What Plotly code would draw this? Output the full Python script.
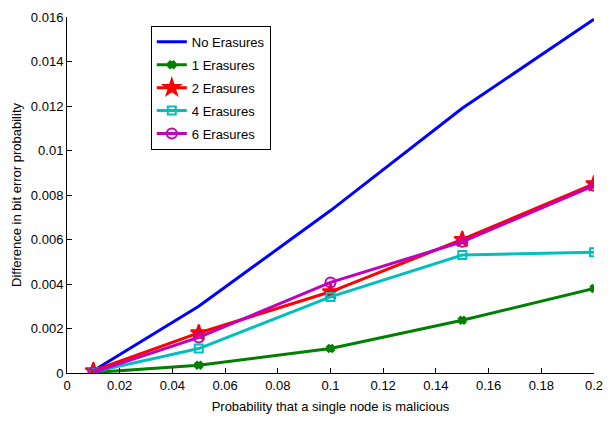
import plotly.graph_objects as go

x_vals = [0.01, 0.05, 0.1, 0.15, 0.2]
no_erasures = [0.0001, 0.0030, 0.0073, 0.0119, 0.0159]
erasures_1 = [0.00002, 0.00035, 0.0011, 0.00237, 0.0038]
erasures_2 = [0.0001, 0.0018, 0.00365, 0.0060, 0.0085]
erasures_4 = [0.00005, 0.0011, 0.00342, 0.00530, 0.00543]
erasures_6 = [0.00003, 0.0016, 0.00407, 0.0059, 0.00842]

series = [
    ("No Erasures", no_erasures, "#0000FF", None, 0),
    ("1 Erasures", erasures_1, "#008000", "x", 6),
    ("2 Erasures", erasures_2, "#FF0000", "star", 12),
    ("4 Erasures", erasures_4, "#00BFBF", "square-open", 8),
    ("6 Erasures", erasures_6, "#BF00BF", "circle-open", 10),
]

fig = go.Figure()
for i, (name, ys, color, sym, size) in enumerate(series):
    mode = "lines" if sym is None else "lines+markers"
    marker = dict(color=color)
    if sym is not None:
        marker.update(symbol=sym, size=size, line=dict(color=color, width=2))
    fig.add_trace(go.Scatter(
        x=x_vals, y=ys, name=name, mode=mode,
        line=dict(color=color, width=3),
        marker=marker, legendgroup=f"g{i}",
    ))

base_font = dict(family="Arial, Liberation Sans, sans-serif", size=13, color="black")

fig.update_layout(
    width=613, height=422,
    margin=dict(l=67, r=10, t=15, b=49),
    plot_bgcolor="white", paper_bgcolor="white",
    font=base_font,
    showlegend=True,
    legend=dict(
        x=0.159, y=0.975, xanchor="left", yanchor="top",
        bordercolor="black", borderwidth=1, bgcolor="white",
        font=dict(family="Arial, Liberation Sans, sans-serif", size=13, color="black"),
        traceorder="grouped", tracegroupgap=3,
    ),
)
fig.update_xaxes(
    range=[0, 0.2], dtick=0.02, tick0=0,
    ticks="inside", ticklen=5, tickcolor="black",
    showline=True, linecolor="black", linewidth=1,
    showgrid=False, zeroline=False,
    tickfont=dict(size=13),
    title=dict(text="Probability that a single node is malicious", standoff=10,
               font=dict(size=13)),
)
fig.update_yaxes(
    range=[0, 0.016], dtick=0.002, tick0=0,
    ticks="inside", ticklen=5, tickcolor="black",
    showline=True, linecolor="black", linewidth=1,
    showgrid=False, zeroline=False,
    tickfont=dict(size=13),
    title=dict(text="Difference in bit error probability", standoff=6,
               font=dict(size=13)),
)

fig.write_html("out.html")
